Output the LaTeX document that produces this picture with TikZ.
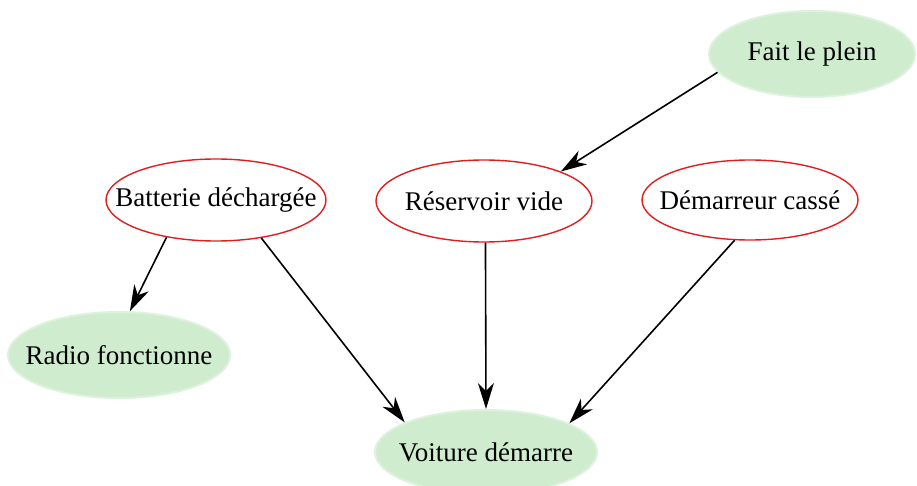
\documentclass[tikz,border=0pt]{standalone}
\usepackage{fontspec}
\setmainfont{Liberation Serif}
\usetikzlibrary{shapes.geometric,arrows.meta}
\definecolor{effect}{RGB}{207,236,207}
\definecolor{cause}{RGB}{225,30,30}
\begin{document}
\begin{tikzpicture}[x=1pt,y=-1pt,
  lbl/.style={font=\fontsize{27}{31}\selectfont, text=black, inner xsep=-40pt, inner ysep=-20pt},
  causenode/.style={lbl, ellipse, draw=cause, line width=1.4pt, fill=white},
  effectnode/.style={lbl, ellipse, fill=effect, draw=effect!70!white, line width=2pt},
  link/.style={line width=1.6pt, -{Stealth[length=26pt,width=16pt,inset=8pt]}}]
\useasboundingbox (0,0) rectangle (917,486);
\node[effectnode, minimum width=206pt, minimum height=86pt] (plein) at (812,54) {Fait le plein};
\node[causenode, minimum width=220pt, minimum height=82pt] (bat) at (216,200) {Batterie déchargée};
\node[causenode, minimum width=216pt, minimum height=82pt] (res) at (484,201) {Réservoir vide};
\node[causenode, minimum width=216pt, minimum height=80pt] (dem) at (750,200) {Démarreur cassé};
\node[effectnode, minimum width=222pt, minimum height=86pt] (radio) at (119,355) {Radio fonctionne};
\node[effectnode, minimum width=222pt, minimum height=84pt] (voi) at (486,452) {Voiture démarre};
\draw[link] (plein.191) -- (res.21);
\draw[link] (bat.217) -- (radio.76);
\draw[link] (bat.320) -- (voi.160);
\draw[link] (res.272) -- (voi.90);
\draw[link] (dem.249) -- (voi.19.5);
\end{tikzpicture}
\end{document}
